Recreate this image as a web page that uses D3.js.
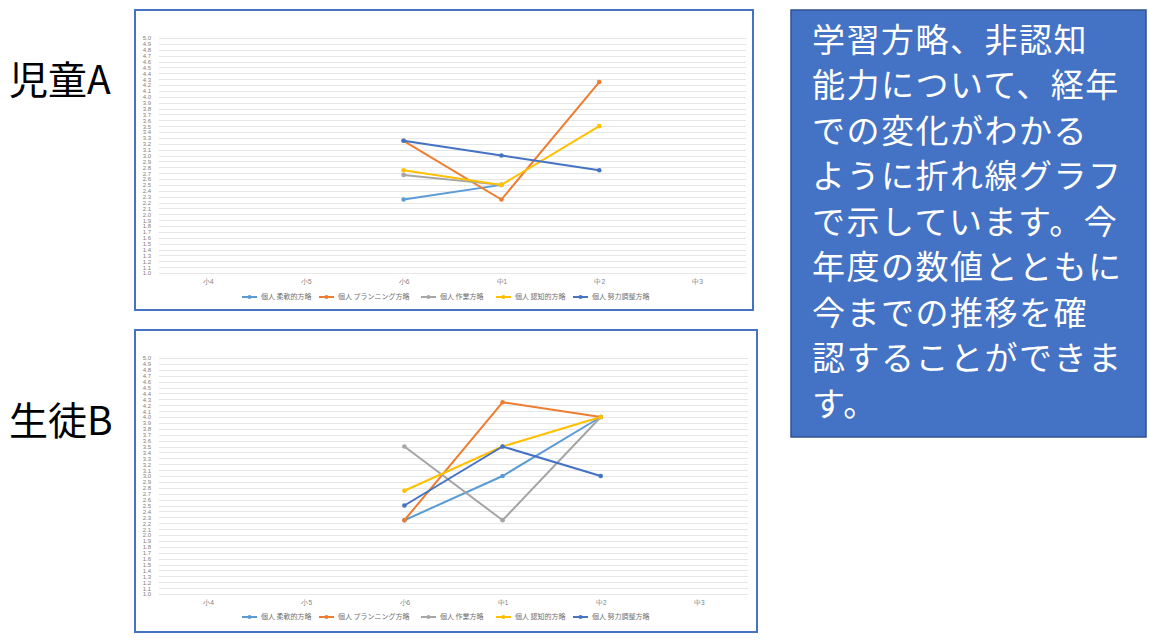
<!DOCTYPE html>
<html>
<head>
<meta charset="utf-8">
<script src="https://cdn.jsdelivr.net/npm/d3@7"></script>
<style>
  body { margin: 0; background: #fff; }
  svg { display: block; font-family: "Noto Sans CJK JP", "Noto Sans", sans-serif; }
</style>
</head>
<body>
<div id="chart"></div>
<script>
// grades on the x axis
const grades = ["小4", "小5", "小6", "中1", "中2", "中3"];
const seriesNames = ["個人 柔軟的方略", "個人 プランニング方略", "個人 作業方略", "個人 認知的方略", "個人 努力調整方略"];
const seriesColors = ["#5B9BD5", "#ED7D31", "#A5A5A5", "#FFC000", "#4472C4"];
const yTicks = d3.range(10, 51).map(d => d / 10);

// 児童A
const childA = [
  [null, null, 2.25, 2.5, null, null],
  [null, null, 3.25, 2.25, 4.25, null],
  [null, null, 2.67, 2.5, null, null],
  [null, null, 2.75, 2.5, 3.5, null],
  [null, null, 3.25, 3.0, 2.75, null]
];
// 生徒B
const studentB = [
  [null, null, 2.25, 3.0, 4.0, null],
  [null, null, 2.25, 4.25, 4.0, null],
  [null, null, 3.5, 2.25, 4.0, null],
  [null, null, 2.75, 3.5, 4.0, null],
  [null, null, 2.5, 3.5, 3.0, null]
];

const noteLines = [
  "学習方略、非認知",
  "能力について、経年",
  "での変化がわかる",
  "ように折れ線グラフ",
  "で示しています。今",
  "年度の数値とともに",
  "今までの推移を確",
  "認することができま",
  "す。"
];

const svg = d3.select("#chart").append("svg")
  .attr("width", 1149)
  .attr("height", 640);

function drawChart(opts, values) {
  const g = svg.append("g");

  g.append("rect")
    .attr("x", opts.x).attr("y", opts.y)
    .attr("width", opts.w).attr("height", opts.h)
    .attr("fill", "#fff")
    .attr("stroke", "#4472C4")
    .attr("stroke-width", 2);

  const x = d3.scalePoint()
    .domain(grades)
    .range([opts.plotLeft, opts.plotRight])
    .padding(0.5);

  const y = d3.scaleLinear()
    .domain([1, 5])
    .range([opts.plotBottom, opts.plotTop]);

  // gridlines
  g.append("g")
    .selectAll("line")
    .data(yTicks)
    .join("line")
    .attr("x1", opts.plotLeft)
    .attr("x2", opts.plotRight)
    .attr("y1", d => Math.round(y(d)) + 0.5)
    .attr("y2", d => Math.round(y(d)) + 0.5)
    .attr("stroke", "#e6e6e6")
    .attr("stroke-width", 1);

  // y axis labels
  const yAxis = g.append("g")
    .attr("transform", `translate(${opts.plotLeft - 7},0)`)
    .call(d3.axisLeft(y).tickValues(yTicks).tickSize(0).tickFormat(d3.format(".1f")));
  yAxis.select(".domain").remove();
  yAxis.selectAll("text")
    .attr("x", -1)
    .attr("fill", "#808080")
    .style("font-size", "6px")
    .style("font-family", "Liberation Sans, Arial, sans-serif");

  // x axis labels
  const xAxis = g.append("g")
    .attr("transform", `translate(0,${opts.plotBottom})`)
    .call(d3.axisBottom(x).tickSize(0).tickPadding(6));
  xAxis.select(".domain").remove();
  xAxis.selectAll("text")
    .attr("fill", "#808080")
    .style("font-size", "6.5px");

  const line = d3.line()
    .defined(d => d != null)
    .x((d, i) => x(grades[i]))
    .y(d => y(d));

  values.forEach((vals, s) => {
    g.append("path")
      .datum(vals)
      .attr("fill", "none")
      .attr("stroke", seriesColors[s])
      .attr("stroke-width", 2)
      .attr("d", line);
    g.append("g")
      .selectAll("circle")
      .data(vals.map((v, i) => ({ v, i })).filter(d => d.v != null))
      .join("circle")
      .attr("cx", d => x(grades[d.i]))
      .attr("cy", d => y(d.v))
      .attr("r", 2.3)
      .attr("fill", seriesColors[s]);
  });

  // legend
  const legendX = [242, 319, 421, 496, 573];
  const lg = g.append("g").attr("transform", `translate(0,${opts.legendY})`);
  seriesNames.forEach((name, s) => {
    const item = lg.append("g").attr("transform", `translate(${legendX[s]},0)`);
    item.append("line")
      .attr("x1", 0).attr("x2", 15)
      .attr("stroke", seriesColors[s]).attr("stroke-width", 2);
    item.append("circle").attr("cx", 7.5).attr("r", 2).attr("fill", seriesColors[s]);
    item.append("text")
      .attr("x", 19).attr("dy", "0.35em")
      .attr("fill", "#6f6f6f")
      .style("font-size", "7px")
      .text(name);
  });

  // side label
  svg.append("text")
    .attr("x", 9)
    .attr("y", opts.labelY)
    .attr("dy", "0.35em")
    .attr("fill", "#000")
    .style("font-size", "39px")
    .text(opts.label);
}

drawChart({
  x: 135, y: 10, w: 618, h: 300,
  plotLeft: 159, plotRight: 746, plotTop: 38, plotBottom: 273,
  legendY: 297, label: "児童A", labelY: 80
}, childA);

drawChart({
  x: 135, y: 330, w: 622, h: 302,
  plotLeft: 159, plotRight: 748, plotTop: 358, plotBottom: 594,
  legendY: 617, label: "生徒B", labelY: 421
}, studentB);

// note box
svg.append("rect")
  .attr("x", 791).attr("y", 10)
  .attr("width", 355).attr("height", 427)
  .attr("fill", "#4472C4")
  .attr("stroke", "#2F528F")
  .attr("stroke-width", 1.5);

svg.append("g")
  .selectAll("text")
  .data(noteLines)
  .join("text")
  .attr("x", 812)
  .attr("y", (d, i) => 40 + i * 45.5)
  .attr("dy", "0.36em")
  .attr("fill", "#fff")
  .style("font-size", "33px")
  .style("letter-spacing", "1.5px")
  .text(d => d);
</script>
</body>
</html>
